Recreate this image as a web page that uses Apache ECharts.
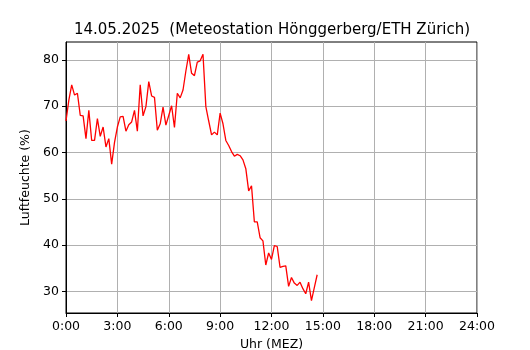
<!DOCTYPE html>
<html>
<head>
<meta charset="utf-8">
<script src="https://cdn.jsdelivr.net/npm/echarts@6/dist/echarts.min.js"></script>
<style>
  html, body { margin: 0; padding: 0; background: #fff; }
  #chart { width: 530px; height: 350px; }
</style>
</head>
<body>
<div id="chart"></div>
<script>
// Messzeitpunkte (alle 10 Minuten)
var times = [
    '0:00', '0:10', '0:20', '0:30', '0:40', '0:50',
    '1:00', '1:10', '1:20', '1:30', '1:40', '1:50',
    '2:00', '2:10', '2:20', '2:30', '2:40', '2:50',
    '3:00', '3:10', '3:20', '3:30', '3:40', '3:50',
    '4:00', '4:10', '4:20', '4:30', '4:40', '4:50',
    '5:00', '5:10', '5:20', '5:30', '5:40', '5:50',
    '6:00', '6:10', '6:20', '6:30', '6:40', '6:50',
    '7:00', '7:10', '7:20', '7:30', '7:40', '7:50',
    '8:00', '8:10', '8:20', '8:30', '8:40', '8:50',
    '9:00', '9:10', '9:20', '9:30', '9:40', '9:50',
    '10:00', '10:10', '10:20', '10:30', '10:40', '10:50',
    '11:00', '11:10', '11:20', '11:30', '11:40', '11:50',
    '12:00', '12:10', '12:20', '12:30', '12:40', '12:50',
    '13:00', '13:10', '13:20', '13:30', '13:40', '13:50',
    '14:00', '14:10', '14:20', '14:30', '14:40'
];
// Luftfeuchte in %
var humidity = [
    66.8, 71.3, 74.6, 72.4, 72.8, 68.0,
    67.9, 63.0, 69.1, 62.6, 62.6, 67.3,
    63.5, 65.5, 61.2, 63.0, 57.5, 62.2,
    65.5, 67.7, 67.8, 64.6, 66.0, 66.6,
    69.1, 64.6, 74.6, 67.9, 69.9, 75.3,
    72.2, 71.9, 64.8, 66.2, 69.8, 65.9,
    68.0, 70.1, 65.4, 72.8, 71.8, 73.5,
    77.6, 81.2, 77.1, 76.6, 79.5, 79.8,
    81.2, 69.9, 66.8, 63.8, 64.4, 63.8,
    68.5, 66.2, 62.6, 61.5, 60.2, 59.2,
    59.6, 59.3, 58.4, 56.5, 51.7, 52.8,
    45.0, 45.0, 41.6, 40.9, 35.7, 38.3,
    36.9, 39.9, 39.7, 35.2, 35.4, 35.5,
    31.1, 33.0, 31.8, 31.3, 32.0, 30.6,
    29.5, 32.0, 28.0, 30.8, 33.6
];
var yTicks = [30, 40, 50, 60, 70, 80];

function toMinutes(t) {
    var p = t.split(':');
    return parseInt(p[0], 10) * 60 + parseInt(p[1], 10);
}

var chart = echarts.init(document.getElementById('chart'));
var font = 'DejaVu Sans';

var option = {
    animation: false,
    backgroundColor: '#fff',
    title: {
        text: '14.05.2025  (Meteostation Hönggerberg/ETH Zürich)',
        left: 267,
        top: 18,
        textAlign: 'center',
        textStyle: { fontFamily: font, fontSize: 15, fontWeight: 'normal', color: '#000' }
    },
    grid: {
        left: 66, right: 53, top: 42, bottom: 37,
        outerBoundsMode: 'none', containLabel: false,
        show: true, borderColor: '#000', borderWidth: 1
    },
    xAxis: {
        type: 'value',
        min: 0,
        max: 1440,
        interval: 180,
        name: 'Uhr (MEZ)',
        nameLocation: 'middle',
        nameGap: 25,
        nameTextStyle: { fontFamily: font, fontSize: 12.5, color: '#000' },
        axisLine: { show: true, lineStyle: { color: '#000' } },
        axisTick: { show: true, length: 4, inside: false, lineStyle: { color: '#000' } },
        axisLabel: {
            fontFamily: font, fontSize: 12.5, color: '#000', margin: 7,
            formatter: function (v) { return Math.floor(v / 60) + ':00'; }
        },
        splitLine: { show: true, lineStyle: { color: '#b0b0b0', width: 1 } }
    },
    yAxis: {
        type: 'value',
        min: 25.34,
        max: 83.86,
        name: 'Luftfeuchte (%)',
        nameLocation: 'middle',
        nameGap: 30,
        nameTextStyle: { fontFamily: font, fontSize: 12.5, color: '#000' },
        axisLine: { show: true, lineStyle: { color: '#000' } },
        axisTick: { show: true, length: 4, customValues: yTicks, lineStyle: { color: '#000' } },
        axisLabel: { fontFamily: font, fontSize: 12.5, color: '#000', margin: 7, customValues: yTicks },
        splitLine: { show: true, lineStyle: { color: '#b0b0b0', width: 1 } }
    },
    series: [{
        type: 'line',
        data: times.map(function (t, i) { return [toMinutes(t), humidity[i]]; }),
        showSymbol: false,
        lineStyle: { color: '#ff0000', width: 1.3 },
        itemStyle: { color: '#ff0000' }
    }]
};
chart.setOption(option);
</script>
</body>
</html>
